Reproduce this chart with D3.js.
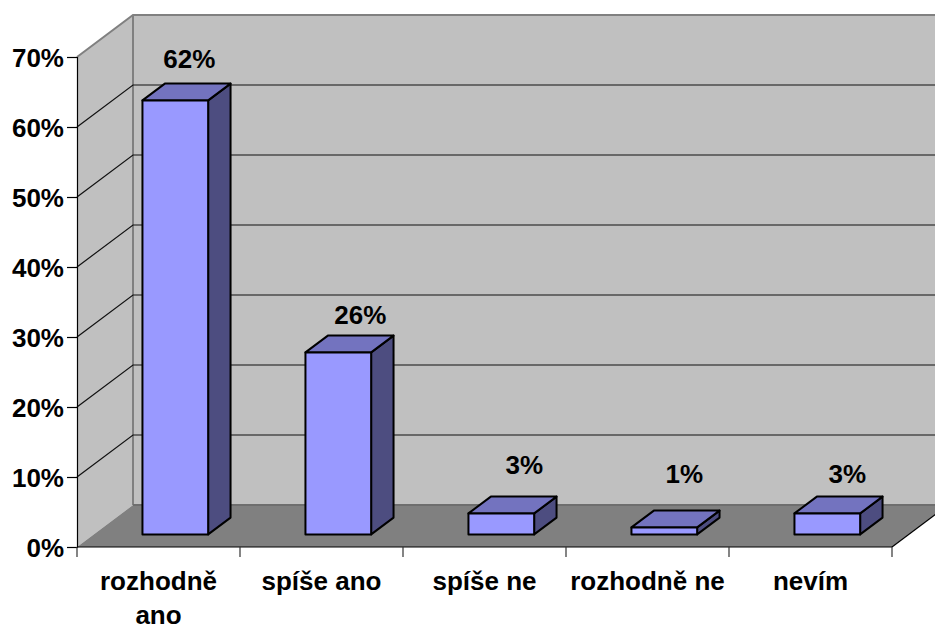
<!DOCTYPE html>
<html>
<head>
<meta charset="utf-8">
<style>
  html, body { margin: 0; padding: 0; background: #fff; }
  svg { display: block; }
  text { font-family: "Liberation Sans", Arial, sans-serif; font-weight: bold; font-size: 26px; fill: #000; }
</style>
</head>
<body>
<svg width="935" height="626"></svg>
<script src="https://cdn.jsdelivr.net/npm/d3@7"></script>
<script>
const categories = ['rozhodně ano', 'spíše ano', 'spíše ne', 'rozhodně ne', 'nevím'];
const values = [62, 26, 3, 1, 3];
const yTicks = [0, 10, 20, 30, 40, 50, 60, 70];

// hand-moved data labels in the original, so they sit a bit off the bar
const labelShiftX = [14, 22, 23, 20, 20];
const labelShiftY = [-32, -28, -39.5, -44, -30];

const svg = d3.select('svg');

// depth of the 3d box: how far the back wall is shifted from the front plane
const depth = { x: 56, y: -42 };
const barStart = 0.3, barEnd = 0.7; // bar position inside the depth

const x = d3.scaleBand().domain(categories).range([77, 892]).paddingInner(0.597).paddingOuter(0.2985).align(0.5);
const y = d3.scaleLinear().domain([0, 70]).range([547, 57]);

const poly = pts => pts.map(p => p.join(',')).join(' ');
const back = (px, py) => [px + depth.x, py + depth.y];

// walls and floor
svg.append('polygon')
    .attr('points', poly([[x.range()[0], y(70)], back(x.range()[0], y(70)), back(x.range()[0], y(0)), [x.range()[0], y(0)]]))
    .attr('fill', '#c0c0c0');
svg.append('polygon')
    .attr('points', poly([back(x.range()[0], y(70)), back(x.range()[1], y(70)), back(x.range()[1], y(0)), back(x.range()[0], y(0))]))
    .attr('fill', '#c0c0c0');
svg.append('polygon')
    .attr('points', poly([[x.range()[0], y(0)], back(x.range()[0], y(0)), back(x.range()[1], y(0)), [x.range()[1], y(0)]]))
    .attr('fill', '#808080');

// wall outlines
svg.append('polyline')
    .attr('points', poly([[x.range()[0], y(70)], back(x.range()[0], y(70)), back(x.range()[1], y(70))]))
    .attr('fill', 'none').attr('stroke', '#808080').attr('stroke-width', 2);
svg.append('line')
    .attr('x1', back(x.range()[0], 0)[0]).attr('x2', back(x.range()[0], 0)[0])
    .attr('y1', back(0, y(70))[1]).attr('y2', back(0, y(0))[1])
    .attr('stroke', '#808080').attr('stroke-width', 2);
svg.append('line')
    .attr('x1', back(x.range()[0], 0)[0]).attr('x2', back(x.range()[1], 0)[0])
    .attr('y1', back(0, y(0))[1]).attr('y2', back(0, y(0))[1])
    .attr('stroke', '#6e6e6e').attr('stroke-width', 2);
svg.append('polyline')
    .attr('points', poly([[x.range()[1], y(0)], back(x.range()[1], y(0))]))
    .attr('fill', 'none').attr('stroke', '#000').attr('stroke-width', 1.2);

// gridlines, side wall then back wall
yTicks.filter(d => d > 0 && d < 70).forEach(d => {
    svg.append('polyline')
        .attr('points', poly([[x.range()[0], y(d)], back(x.range()[0], y(d)), back(x.range()[1], y(d))]))
        .attr('fill', 'none').attr('stroke', '#111').attr('stroke-width', 1.2);
});

// axes
const yAxis = svg.append('g')
    .attr('transform', `translate(${x.range()[0]},0)`)
    .call(d3.axisLeft(y).tickValues(yTicks).tickFormat(d => d + '%').tickSize(10).tickPadding(3));
yAxis.selectAll('path, line').attr('stroke', '#000').attr('stroke-width', 1.2);
yAxis.selectAll('text').attr('font-size', null).attr('font-family', null).attr('dy', '0.36em');

svg.append('line')
    .attr('x1', x.range()[0]).attr('x2', x.range()[1])
    .attr('y1', y(0)).attr('y2', y(0))
    .attr('stroke', '#000').attr('stroke-width', 1.2);

// category ticks sit between the bands, so no axisBottom here
const edges = [0, 1, 2, 3, 4, 5].map(i => x.range()[0] + i * x.step());
svg.selectAll('.xtick').data(edges).enter().append('line')
    .attr('class', 'xtick')
    .attr('x1', d => d).attr('x2', d => d)
    .attr('y1', y(0)).attr('y2', y(0) + 10)
    .attr('stroke', '#333').attr('stroke-width', 1.2);

// category labels, wrapped when wider than the band
svg.selectAll('.cat').data(categories).enter().append('text')
    .attr('class', 'cat')
    .attr('text-anchor', 'middle')
    .attr('y', 590)
    .each(function(d) {
        const el = d3.select(this);
        const cx = x(d) + x.bandwidth() / 2;
        el.text(d);
        if (this.getComputedTextLength() > x.step()) {
            el.text(null);
            d.split(' ').forEach((word, i) => {
                el.append('tspan').attr('x', cx).attr('dy', i ? 34 : 0).text(word);
            });
        } else {
            el.attr('x', cx);
        }
    });

// bars
const bars = svg.selectAll('.bar').data(categories).enter().append('g').attr('class', 'bar');
const corner = (d, i, frac) => {
    const bx = x(d), w = x.bandwidth();
    return {
        x0: bx + depth.x * frac,
        x1: bx + w + depth.x * frac,
        yb: y(0) + depth.y * frac,
        yt: y(values[i]) + depth.y * frac
    };
};
const barStyle = s => s.attr('stroke', '#000').attr('stroke-width', 2).attr('stroke-linejoin', 'round');

bars.append('polygon').call(barStyle).attr('fill', '#4d4d80')
    .attr('points', (d, i) => {
        const f = corner(d, i, barStart), b = corner(d, i, barEnd);
        return poly([[f.x1, f.yt], [b.x1, b.yt], [b.x1, b.yb], [f.x1, f.yb]]);
    });
bars.append('polygon').call(barStyle).attr('fill', '#7373bf')
    .attr('points', (d, i) => {
        const f = corner(d, i, barStart), b = corner(d, i, barEnd);
        return poly([[f.x0, f.yt], [b.x0, b.yt], [b.x1, b.yt], [f.x1, f.yt]]);
    });
bars.append('polygon').call(barStyle).attr('fill', '#9999ff')
    .attr('points', (d, i) => {
        const f = corner(d, i, barStart);
        return poly([[f.x0, f.yt], [f.x1, f.yt], [f.x1, f.yb], [f.x0, f.yb]]);
    });

// data labels
bars.append('text')
    .attr('text-anchor', 'middle')
    .attr('x', (d, i) => { const f = corner(d, i, barStart); return (f.x0 + f.x1) / 2 + labelShiftX[i]; })
    .attr('y', (d, i) => corner(d, i, barStart).yt + labelShiftY[i])
    .text((d, i) => values[i] + '%');
</script>
</body>
</html>
